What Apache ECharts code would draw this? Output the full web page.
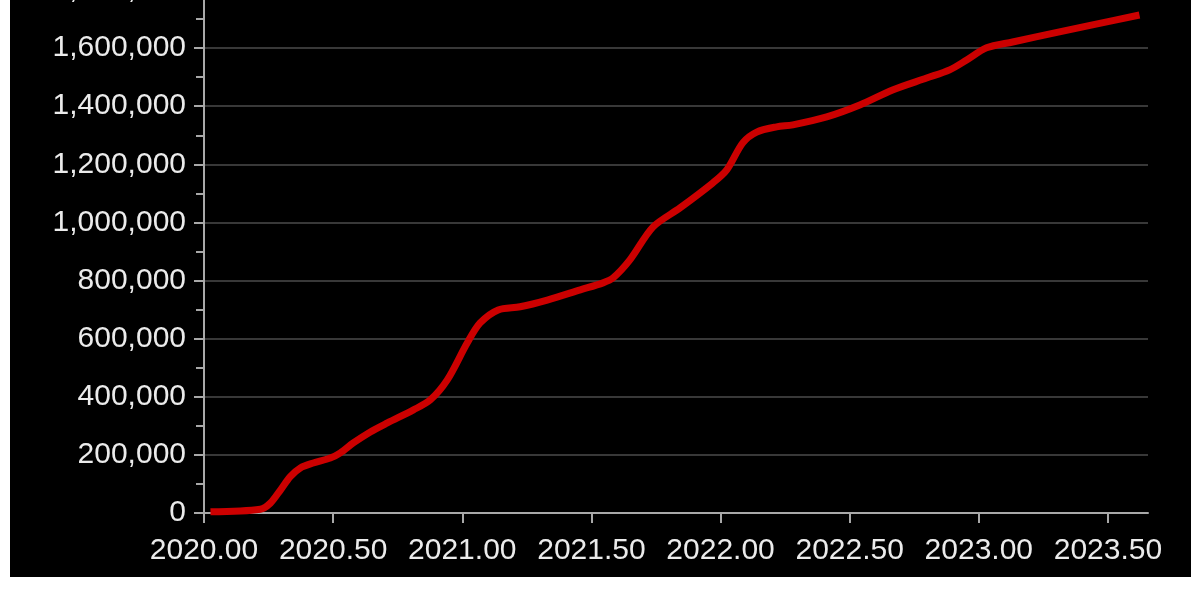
<!DOCTYPE html>
<html>
<head>
<meta charset="utf-8">
<script src="https://cdn.jsdelivr.net/npm/echarts@6/dist/echarts.min.js"></script>
<style>
  html, body { margin: 0; padding: 0; background: #fff; }
  #main { position: absolute; left: 10px; top: 0; width: 1181px; height: 577px; background: #000; }
</style>
</head>
<body>
<div id="main"></div>
<script>
// 数据
var years = [2020.025, 2020.218, 2020.257, 2020.296, 2020.334, 2020.373, 2020.423, 2020.489,
  2020.528, 2020.578, 2020.644, 2020.710, 2020.811, 2020.876, 2020.942, 2021.019, 2021.069,
  2021.139, 2021.224, 2021.329, 2021.457, 2021.545, 2021.584, 2021.649, 2021.738, 2021.843,
  2021.970, 2022.024, 2022.086, 2022.140, 2022.217, 2022.280, 2022.411, 2022.539, 2022.666,
  2022.798, 2022.887, 2022.953, 2023.030, 2023.131, 2023.312, 2023.440, 2023.622];
var totals = [4000, 13000, 34000, 79000, 125000, 155000, 172000, 189000,
  207000, 241000, 279000, 310000, 355000, 389000, 458000, 585000, 654000,
  699000, 710000, 733000, 768000, 792000, 809000, 871000, 984000, 1050000,
  1136000, 1181000, 1274000, 1311000, 1329000, 1336000, 1363000, 1404000, 1456000,
  1497000, 1525000, 1559000, 1601000, 1621000, 1656000, 1680000, 1714000];
var xTicks = [2020, 2020.5, 2021, 2021.5, 2022, 2022.5, 2023, 2023.5];

var chart = echarts.init(document.getElementById("main"));
var seriesData = years.map(function (y, i) { return [y, totals[i]]; });
var textColor = "#ebebeb";
var axisColor = "#a8a8a8";

chart.setOption({
  backgroundColor: "#000",
  animation: false,
  grid: { left: 194, right: 43, top: -10, bottom: 64, outerBoundsMode: "none", containLabel: false },
  xAxis: {
    type: "value",
    min: 2020,
    max: 2023.655,
    axisLine: { lineStyle: { color: axisColor, width: 2 } },
    axisTick: { length: 10, lineStyle: { color: axisColor, width: 2 }, customValues: xTicks },
    axisLabel: {
      customValues: xTicks,
      margin: 23,
      color: textColor,
      fontSize: 30,
      fontFamily: "Liberation Sans",
      formatter: function (v) { return v.toFixed(2); }
    },
    splitLine: { show: false }
  },
  yAxis: {
    type: "value",
    min: 0,
    max: 1800000,
    interval: 200000,
    axisLine: { show: true, lineStyle: { color: axisColor, width: 2 } },
    axisTick: { show: true, length: 10, lineStyle: { color: axisColor, width: 2 } },
    minorTick: { show: true, splitNumber: 2, length: 8, lineStyle: { color: axisColor, width: 2 } },
    axisLabel: {
      margin: 18,
      color: textColor,
      fontSize: 30,
      fontFamily: "Liberation Sans",
      formatter: function (v) { return v.toLocaleString("en-US"); }
    },
    splitLine: { lineStyle: { color: "#383838", width: 2 } }
  },
  series: [
    {
      type: "line",
      data: seriesData,
      smooth: 0.3,
      showSymbol: false,
      lineStyle: { color: "#cc0000", width: 7 }
    }
  ]
});
</script>
</body>
</html>
